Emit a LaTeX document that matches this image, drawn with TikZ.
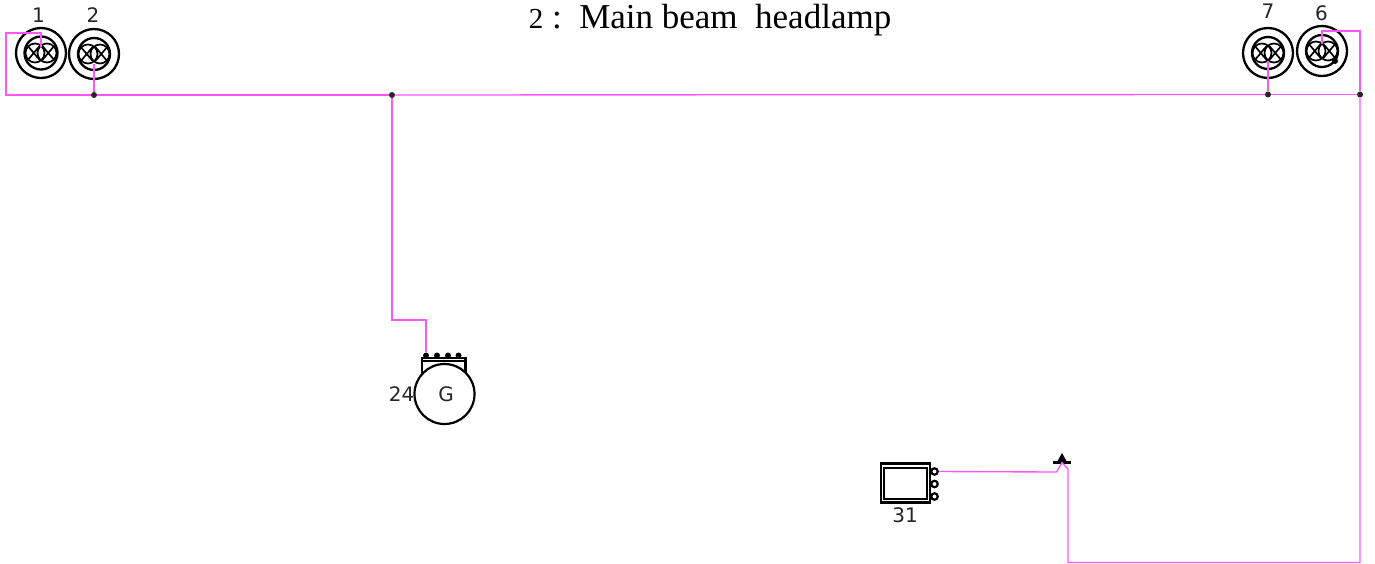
\documentclass[tikz,border=0pt]{standalone}
\usepackage{fontspec}
\setmainfont{Liberation Serif}
\newfontfamily\labelfont{DejaVu Sans}
\definecolor{wirecol}{HTML}{FF55FF}
\tikzset{
  wire/.style={draw=wirecol,line width=1.35pt,line join=miter},
  dev/.style={draw=black,line width=2.2pt},
  thin dev/.style={draw=black,line width=1.7pt},
  lampring/.style={circle,draw=black,line width=2.3pt,minimum size=#1,inner sep=0pt},
  junction/.style={circle,fill=black!85,inner sep=0pt,minimum size=6pt},
  pinball/.style={circle,fill=black,inner sep=0pt,minimum size=6pt},
  pinring/.style={circle,draw=black,line width=2.2pt,inner sep=0pt,minimum size=6.5pt},
  num/.style={font=\labelfont\fontsize{20}{22}\selectfont,text=black!85,inner sep=0pt},
}
\newcommand{\lampfilament}[2]{%
  \begin{scope}[shift={(#1)}]
    \draw[thin dev] (-6,0) circle[radius=9.5];
    \draw[thin dev] (6,0) circle[radius=9.5];
    \draw[thin dev] (-13,-6.8) -- (-1.5,6.8) (-13,6.8) -- (-1.5,-6.8);
    \draw[thin dev] (13,-6.8) -- (1.5,6.8) (13,6.8) -- (1.5,-6.8);
    \node[lampring=#2] at (0,0) {};
  \end{scope}}
\begin{document}
\begin{tikzpicture}[x=1pt,y=-1pt]
\useasboundingbox (0,0) rectangle (1375,564);
% title
\node[font=\fontsize{35}{38}\selectfont,inner sep=0pt,anchor=center] (title) at (710,20) {{\fontsize{29}{30}\selectfont 2} :\ \ Main beam\ \ headlamp};
% lamps
\node[lampring=50pt] (L1) at (41,53) {};
\lampfilament{41,53}{33pt}
\node[lampring=50pt] (L2) at (94,54) {};
\lampfilament{94,54}{32pt}
\node[lampring=50pt] (L7) at (1268,53) {};
\lampfilament{1268,53}{32pt}
\node[lampring=50pt] (L6) at (1322,51) {};
\lampfilament{1322,51}{32pt}
\node[num] (n1) at (38.5,15) {1};
\node[num] (n2) at (93,15) {2};
\node[num] (n7) at (1268,11) {7};
\node[num] (n6) at (1321.5,13) {6};
% junctions
\node[junction] (J1) at (94,95) {};
\node[junction] (J2) at (392,95) {};
\node[junction] (J3) at (1268,94.5) {};
\node[junction] (J4) at (1360,94.5) {};
\node[pinball] (P6) at (1335,61) {};
% generator
\node[circle,draw=black,line width=2.2pt,minimum size=60pt,inner sep=0pt,font=\labelfont\fontsize{20}{22}\selectfont,text=black!85] (G) at (444.5,394) {\hspace{3pt}G};
\node[num] (n24) at (401.5,394) {24};
\draw[dev] (422,373) -- (422,358) -- (465.5,358) -- (465.5,373);
\draw[line width=1.4pt] (422,361) -- (465.5,361);
\foreach \nm/\px in {Ga/426,Gb/437,Gc/448,Gd/458.5}
  \node[pinball] (\nm) at (\px,355.5) {};
% connector block
\node[draw=black,line width=2.4pt,minimum width=49pt,minimum height=39pt,inner sep=0pt,fill=white] (box) at (905.5,483) {};
\node[draw=black,line width=2.4pt,minimum width=43pt,minimum height=30.5pt,inner sep=0pt,fill=white] (boxin) at (905.5,483.5) {};
\node[pinring] (Pa) at (934.5,471.5) {};
\node[pinring] (Pb) at (934.5,484) {};
\node[pinring] (Pc) at (934.5,496.5) {};
\node[num] (n31) at (905,515.5) {31};
% plug
\fill[black] (1053,461) rectangle (1071,463.8);
\coordinate (Tip) at (1062,462.5);
\fill[black] (1062,453) -- (1066.5,461) -- (1057.5,461) -- cycle;
% wires
\coordinate (Sa) at (41,47);
\coordinate (Ka) at (41,33);
\coordinate (Kb) at (6,33);
\coordinate (Kc) at (6,95);
\draw[wire] (Sa) -- (Ka) -- (Kb) -- (Kc) -- (J1);
\coordinate (Sb) at (94,64);
\draw[wire] (Sb) -- (J1);
\draw[wire] (J1) -- (J2);
\draw[wire] (J2) -- (J3);
\coordinate (Sc) at (1268,61);
\draw[wire] (Sc) -- (J3);
\draw[wire] (J3) -- (J4);
\coordinate (Kd) at (1360,31);
\coordinate (Ke) at (1322,31);
\coordinate (Sd) at (1322,44);
\draw[wire] (J4) -- (Kd) -- (Ke) -- (Sd);
\coordinate (Kf) at (392,320);
\coordinate (Kg) at (426,320);
\draw[wire] (J2) -- (Kf) -- (Kg) -- (Ga);
\coordinate (Kh) at (1360,562.5);
\coordinate (Ki) at (1068,562.5);
\coordinate (Kj) at (1068,469);
\coordinate (Kk) at (1056.5,472);
\draw[wire] (J4) -- (Kh) -- (Ki) -- (Kj) -- (Tip) -- (Kk) -- (Pa);
\end{tikzpicture}
\end{document}
